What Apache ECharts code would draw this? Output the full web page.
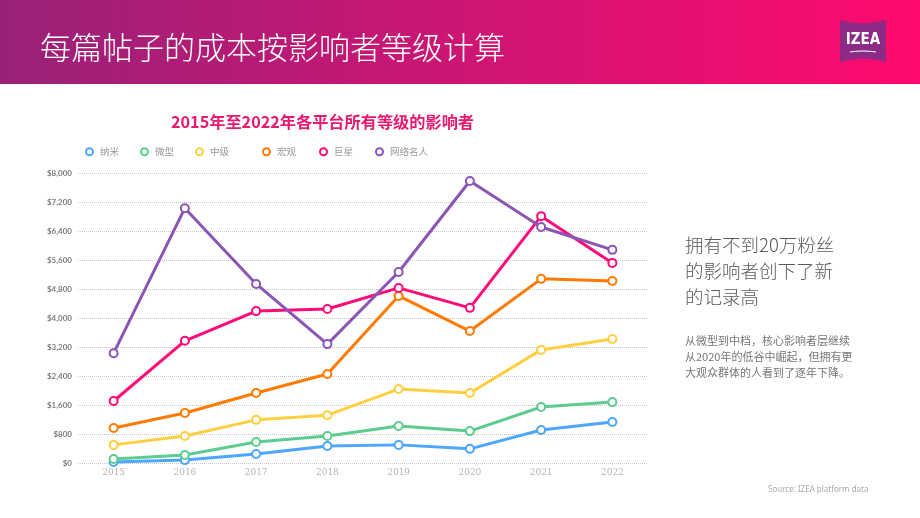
<!DOCTYPE html>
<html>
<head>
<meta charset="utf-8">
<script src="https://cdn.jsdelivr.net/npm/echarts@6/dist/echarts.min.js"></script>
<style>
  html, body { margin: 0; padding: 0; background: #fff; }
  #chart { width: 920px; height: 518px; }
</style>
</head>
<body>
<div id="chart"></div>
<script>
// 年份
const years = ['2015', '2016', '2017', '2018', '2019', '2020', '2021', '2022']

// 各等级每篇帖子成本
const nano = [30, 80, 250, 470, 500, 390, 910, 1130]
const micro = [110, 220, 580, 745, 1020, 880, 1545, 1680]
const mid = [500, 745, 1190, 1320, 2040, 1930, 3120, 3420]
const macro = [965, 1380, 1930, 2455, 4610, 3640, 5080, 5020]
const mega = [1710, 3370, 4190, 4250, 4830, 4280, 6810, 5520]
const celeb = [3030, 7030, 4940, 3280, 5270, 7780, 6510, 5880]

const seriesNames = ['纳米', '微型', '中级', '宏观', '巨星', '网络名人']
const seriesColors = ['#4da6ff', '#5ccc8f', '#ffcf40', '#ff7a00', '#ff0a78', '#8a55b3']
const seriesData = [nano, micro, mid, macro, mega, celeb]
const legendLeft = [80, 135, 190, 257, 314, 370]

const chart = echarts.init(document.getElementById('chart'))

const cjk = '"Noto Sans CJK SC", "Noto Sans", sans-serif'

const option = {
  animation: false,
  textStyle: { fontFamily: cjk },
  title: {
    text: '2015年至2022年各平台所有等级的影响者',
    left: 166,
    top: 109,
    textStyle: { color: '#e8196f', fontSize: 16.2, fontWeight: 'bold', fontFamily: cjk }
  },
  legend: seriesNames.map((name, i) => ({
    data: [name],
    left: legendLeft[i],
    top: 142,
    icon: 'emptyCircle',
    itemWidth: 7,
    itemHeight: 7,
    itemGap: 0,
    textStyle: { color: '#999', fontSize: 9.5, padding: [0, 0, 0, 2] }
  })),
  grid: { left: 78, right: 272, top: 173, bottom: 55 },
  xAxis: {
    type: 'category',
    data: years,
    boundaryGap: true,
    axisLine: { show: false },
    axisTick: { show: false },
    axisLabel: { color: '#b5b5b5', fontSize: 9, fontFamily: '"DejaVu Serif", serif', margin: 5 }
  },
  yAxis: {
    type: 'value',
    min: 0,
    max: 8000,
    interval: 800,
    axisLine: { show: false },
    axisTick: { show: false },
    axisLabel: {
      color: '#7d7d7d',
      fontSize: 8,
      fontWeight: 'bold',
      margin: 6,
      fontFamily: 'Lato, sans-serif',
      formatter: v => '$' + v.toLocaleString('en-US')
    },
    splitLine: { lineStyle: { color: '#c4c4c4', type: 'dotted', width: 1 } }
  },
  series: seriesNames.map((name, i) => ({
    name: name,
    type: 'line',
    data: seriesData[i],
    symbol: 'emptyCircle',
    symbolSize: 8,
    z: 2 + i,
    lineStyle: { width: 3, color: seriesColors[i] },
    itemStyle: { color: seriesColors[i], borderWidth: 2.5, borderColor: seriesColors[i] }
  })),
  graphic: [
    {
      type: 'rect',
      shape: { x: 0, y: 0, width: 920, height: 84 },
      style: {
        fill: new echarts.graphic.LinearGradient(0, 0, 1, 0, [
          { offset: 0, color: '#9a2178' },
          { offset: 1, color: '#ff0a6e' }
        ])
      },
      z: 0
    },
    {
      type: 'text',
      left: 40,
      top: 32,
      style: {
        text: '每篇帖子的成本按影响者等级计算',
        fill: '#fff',
        font: '300 31px "Noto Sans CJK SC", sans-serif'
      }
    },
    {
      // IZEA 标志
      type: 'polygon',
      shape: {
        points: [[840, 20], [852, 22.5], [863, 23.5], [874, 22.5], [886, 20],
                 [886, 62], [874, 59.5], [863, 58.5], [852, 59.5], [840, 62]]
      },
      style: { fill: '#8c2a86' }
    },
    {
      type: 'text',
      x: 863,
      y: 40,
      style: {
        text: 'IZEA',
        fill: '#fff',
        font: 'bold 15px "DejaVu Sans Condensed", "Liberation Sans Narrow", sans-serif',
        align: 'center',
        verticalAlign: 'middle'
      }
    },
    {
      type: 'bezierCurve',
      shape: { x1: 850, y1: 52, x2: 876, y2: 52, cpx1: 863, cpy1: 50 },
      style: { stroke: '#fff', lineWidth: 1.2, fill: null }
    },
    {
      type: 'text',
      left: 685,
      top: 232,
      style: {
        text: '拥有不到20万粉丝\n的影响者创下了新\n的记录高',
        fill: '#5a5a5a',
        font: '300 18.5px "Noto Sans CJK SC", sans-serif',
        lineHeight: 26
      }
    },
    {
      type: 'text',
      left: 685,
      top: 333,
      style: {
        text: '从微型到中档，核心影响者层继续\n从2020年的低谷中崛起，但拥有更\n大观众群体的人看到了逐年下降。',
        fill: '#777',
        font: '11px "Noto Sans CJK SC", sans-serif',
        lineHeight: 16
      }
    },
    {
      type: 'text',
      left: 768,
      top: 486,
      style: {
        text: 'Source: IZEA platform data',
        fill: '#aaa',
        font: '8px "Noto Sans", sans-serif'
      }
    }
  ]
}

chart.setOption(option)
window.addEventListener('resize', () => chart.resize())
</script>
</body>
</html>
